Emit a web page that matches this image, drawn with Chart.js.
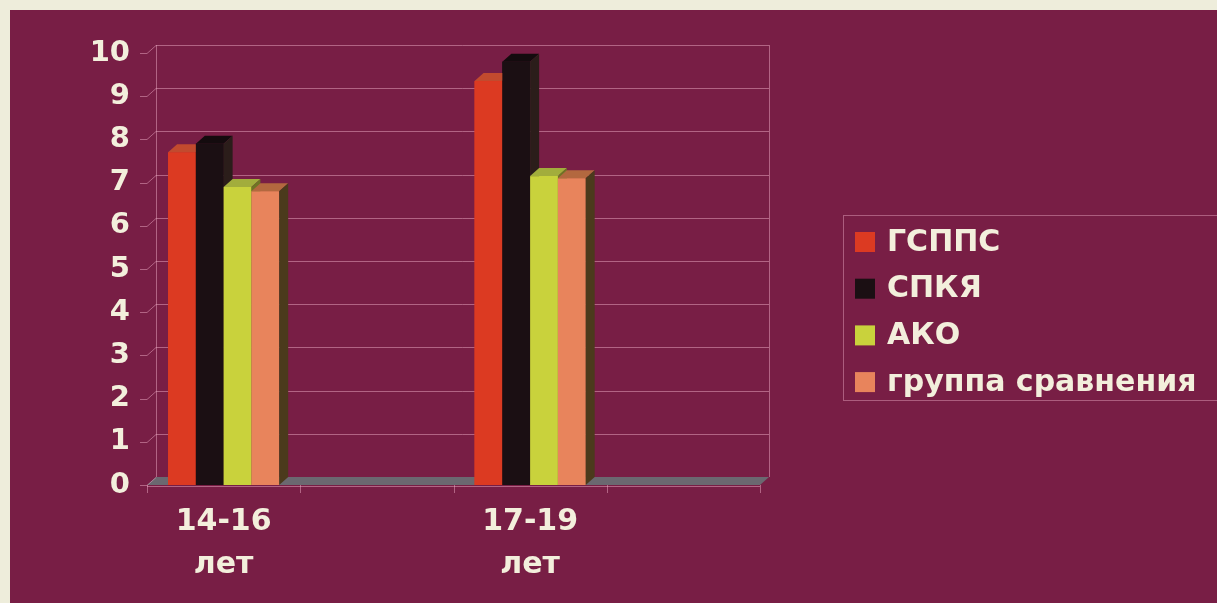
<!DOCTYPE html>
<html>
<head>
<meta charset="utf-8">
<script src="https://cdn.jsdelivr.net/npm/chart.js@4.4.1/dist/chart.umd.min.js"></script>
<style>
  html, body { margin: 0; padding: 0; background: #eeeddb; }
  canvas { display: block; }
</style>
</head>
<body>
<canvas id="c" width="1217" height="603"></canvas>
<script>
// Age groups (empty slots keep the spacing between the two clusters)
const categories = [["14-16", "лет"], "", ["17-19", "лет"], ""];
const seriesNames = ["ГСППС", "СПКЯ", "АКО", "группа сравнения"];
const gsppsValues = [7.7, null, 9.35, null];
const spkyaValues = [7.9, null, 9.8, null];
const akoValues = [6.9, null, 7.15, null];
const controlValues = [6.8, null, 7.1, null];
const yTicks = [0, 1, 2, 3, 4, 5, 6, 7, 8, 9, 10];

const frontColors = ["#dc3a22", "#1b0f13", "#c9d23c", "#e8845c"];
const topColors = ["#c24a2e", "#140b0e", "#a2ad3c", "#b3683f"];
const sideColors = ["#7a2416", "#2b1d1a", "#6f7524", "#4b3a1c"];

const TEXT = "#f3efdc";
const DX = 9, DY = -8;

const boxes3d = {
  id: "boxes3d",
  beforeDraw(chart) {
    const ctx = chart.ctx;
    ctx.save();
    ctx.fillStyle = "#eeeddb";
    ctx.fillRect(0, 0, chart.width, chart.height);
    ctx.fillStyle = "#781e45";
    ctx.fillRect(10, 10, chart.width - 10, chart.height - 10);
    ctx.restore();
  },
  beforeDatasetsDraw(chart) {
    const ctx = chart.ctx;
    const a = chart.chartArea;
    const ys = chart.scales.y;
    const y0 = ys.getPixelForValue(0), y10 = ys.getPixelForValue(10);
    ctx.save();
    // floor
    ctx.fillStyle = "#6b6870";
    ctx.beginPath();
    ctx.moveTo(a.left, y0);
    ctx.lineTo(a.right, y0);
    ctx.lineTo(a.right + DX, y0 + DY);
    ctx.lineTo(a.left + DX, y0 + DY);
    ctx.closePath();
    ctx.fill();
    ctx.strokeStyle = "rgba(235,170,195,0.5)";
    ctx.lineWidth = 1;
    // back wall grid lines, side-wall diagonals, tick marks
    yTicks.forEach(v => {
      const y = Math.round(ys.getPixelForValue(v)) + 0.5;
      ctx.beginPath();
      if (v > 0) {
        ctx.moveTo(a.left + DX, y + DY);
        ctx.lineTo(a.right + DX, y + DY);
      }
      ctx.moveTo(a.left - 7, y);
      ctx.lineTo(a.left, y);
      ctx.lineTo(a.left + DX, y + DY);
      ctx.stroke();
    });
    ctx.beginPath();
    ctx.moveTo(a.left + DX + 0.5, y10 + DY);
    ctx.lineTo(a.left + DX + 0.5, y0 + DY);
    ctx.moveTo(a.right + DX + 0.5, y10 + DY);
    ctx.lineTo(a.right + DX + 0.5, y0 + DY);
    ctx.moveTo(a.left, y0 + 1.5);
    ctx.lineTo(a.right, y0 + 1.5);
    ctx.stroke();
    // category boundary ticks
    const slot = (a.right - a.left) / categories.length;
    for (let i = 0; i <= categories.length; i++) {
      const x = Math.round(a.left + i * slot) + 0.5;
      ctx.beginPath();
      ctx.moveTo(x, y0);
      ctx.lineTo(x, y0 + 8);
      ctx.stroke();
    }
    ctx.restore();
  },
  afterDatasetsDraw(chart) {
    const ctx = chart.ctx;
    const metas = chart.data.datasets.map((d, i) => chart.getDatasetMeta(i));
    ctx.save();
    for (let j = 0; j < categories.length; j++) {
      metas.forEach((meta, i) => {
        const el = meta.data[j];
        const raw = chart.data.datasets[i].data[j];
        if (raw === null || !el) return;
        const l = el.x - el.width / 2, r = el.x + el.width / 2;
        const t = el.y, b = el.base;
        ctx.fillStyle = frontColors[i];
        ctx.fillRect(l, t, r - l, b - t);
        ctx.fillStyle = topColors[i];
        ctx.beginPath();
        ctx.moveTo(l, t); ctx.lineTo(r, t);
        ctx.lineTo(r + DX, t + DY); ctx.lineTo(l + DX, t + DY);
        ctx.closePath(); ctx.fill();
        ctx.fillStyle = sideColors[i];
        ctx.beginPath();
        ctx.moveTo(r, t); ctx.lineTo(r + DX, t + DY);
        ctx.lineTo(r + DX, b + DY); ctx.lineTo(r, b);
        ctx.closePath(); ctx.fill();
      });
    }
    ctx.restore();
  },
  afterDraw(chart) {
    // legend panel
    const ctx = chart.ctx;
    ctx.save();
    ctx.strokeStyle = "rgba(235,170,195,0.45)";
    ctx.lineWidth = 1;
    ctx.strokeRect(843.5, 215.5, 400, 185);
    ctx.font = "bold 30px 'DejaVu Sans'";
    ctx.textBaseline = "middle";
    ctx.textAlign = "left";
    chart.data.datasets.forEach((ds, i) => {
      const cy = 242 + i * 46.7;
      ctx.fillStyle = ds.backgroundColor;
      ctx.fillRect(855, cy - 10, 20, 20);
      ctx.fillStyle = TEXT;
      ctx.fillText(ds.label, 887, cy + 1);
    });
    ctx.restore();
  }
};

const valueSets = [gsppsValues, spkyaValues, akoValues, controlValues];

new Chart(document.getElementById("c"), {
  type: "bar",
  data: {
    labels: categories,
    datasets: seriesNames.map((name, i) => ({
      label: name,
      data: valueSets[i],
      backgroundColor: frontColors[i],
      borderWidth: 0,
      categoryPercentage: 0.725,
      barPercentage: 1.0
    }))
  },
  options: {
    responsive: false,
    animation: false,
    devicePixelRatio: 1,
    layout: { padding: { left: 10, top: 53, right: 457, bottom: 0 } },
    plugins: { legend: { display: false }, tooltip: { enabled: false } },
    scales: {
      x: {
        grid: { display: false },
        border: { display: false },
        ticks: {
          color: TEXT,
          font: { family: "'DejaVu Sans'", size: 30, weight: "bold", lineHeight: 1.43 },
          padding: 8,
          maxRotation: 0,
          autoSkip: false
        },
        afterFit(scale) { scale.height = 118; }
      },
      y: {
        min: 0,
        max: 10,
        grid: { display: false },
        border: { display: false },
        ticks: {
          stepSize: 1,
          color: TEXT,
          padding: 9,
          font: { family: "'DejaVu Sans'", size: 29, weight: "bold" }
        },
        afterFit(scale) { scale.width = 137; }
      }
    }
  },
  plugins: [boxes3d]
});
</script>
</body>
</html>
